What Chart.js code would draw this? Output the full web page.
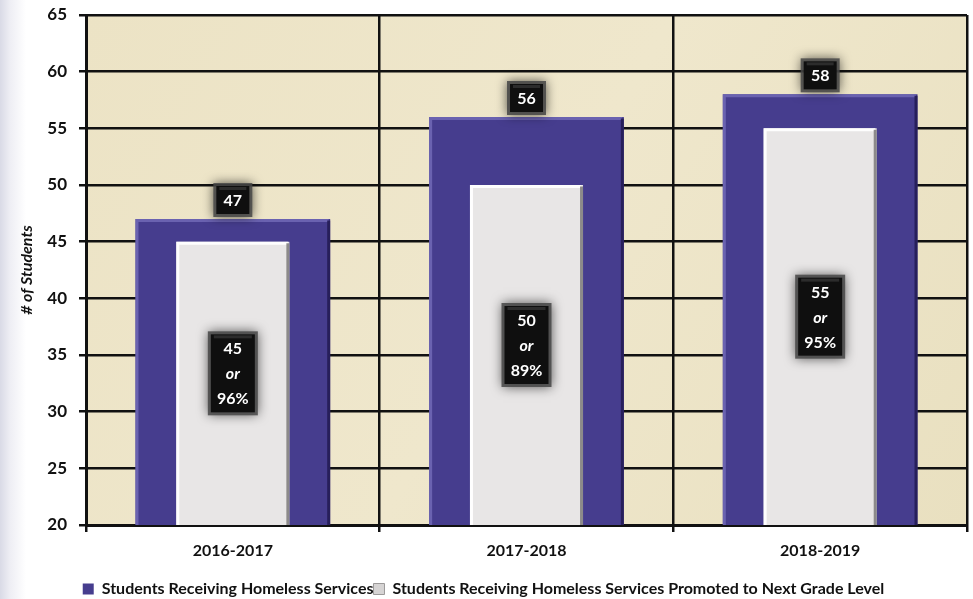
<!DOCTYPE html>
<html>
<head>
<meta charset="utf-8">
<script src="https://cdn.jsdelivr.net/npm/chart.js@4"></script>
<style>
  html, body { margin: 0; padding: 0; }
  body {
    width: 973px; height: 599px; overflow: hidden;
    background: linear-gradient(to right, #d9dae6 0px, #eeeef4 10px, #ffffff 26px);
  }
  #wrap { position: relative; width: 973px; height: 599px; }
</style>
</head>
<body>
<div id="wrap"><canvas id="myChart"></canvas></div>
<script>
const years = ['2016-2017', '2017-2018', '2018-2019'];
const served = [47, 56, 58];
const promoted = [45, 50, 55];
const promotedPct = ['96%', '89%', '95%'];

const FONT = 'Lato, "Open Sans", sans-serif';

// parchment fill behind the plot
const plotBackground = {
    id: 'plotBackground',
    beforeDraw(chart) {
        const { ctx, chartArea: a } = chart;
        ctx.save();
        const g = ctx.createLinearGradient(a.left, a.top, a.right, a.bottom);
        g.addColorStop(0, '#ece3c5');
        g.addColorStop(0.5, '#efe7cc');
        g.addColorStop(1, '#e9e0c0');
        ctx.fillStyle = g;
        ctx.fillRect(a.left, a.top, a.right - a.left, a.bottom - a.top);
        ctx.restore();
    }
};

// light/dark edges on each bar
const bevel = {
    id: 'bevel',
    afterDatasetsDraw(chart) {
        const ctx = chart.ctx;
        const bottom = chart.chartArea.bottom;
        const styles = [
            { light: 'rgba(110,102,180,0.9)', dark: 'rgba(35,28,85,0.9)' },
            { light: 'rgba(255,255,255,0.95)', dark: 'rgba(130,128,128,0.9)' }
        ];
        // purple first so the grey bars stay on top
        [0, 1].forEach(di => {
            const s = styles[di];
            chart.getDatasetMeta(di).data.forEach(bar => {
                const l = bar.x - bar.width / 2, r = bar.x + bar.width / 2;
                const t = bar.y, b = Math.min(bar.base, bottom);
                ctx.save();
                ctx.lineWidth = 3;
                ctx.strokeStyle = s.light;
                ctx.beginPath();
                ctx.moveTo(l + 1.5, b);
                ctx.lineTo(l + 1.5, t + 1.5);
                ctx.lineTo(r - 1.5, t + 1.5);
                ctx.stroke();
                ctx.strokeStyle = s.dark;
                ctx.beginPath();
                ctx.moveTo(r - 1.5, t + 1.5);
                ctx.lineTo(r - 1.5, b);
                ctx.stroke();
                ctx.restore();
            });
        });
    }
};

function labelBox(ctx, cx, cy, w, h, lines, italicIdx) {
    ctx.save();
    ctx.shadowColor = 'rgba(0,0,0,0.75)';
    ctx.shadowBlur = 11;
    ctx.fillStyle = 'rgba(70,70,70,0.85)';
    ctx.fillRect(cx - w / 2 - 3, cy - h / 2 - 3, w + 6, h + 6);
    ctx.shadowBlur = 0;
    ctx.fillStyle = '#0f0f0f';
    ctx.fillRect(cx - w / 2, cy - h / 2, w, h);
    ctx.fillStyle = 'rgba(255,255,255,0.12)';
    ctx.fillRect(cx - w / 2 + 3, cy - h / 2 + 1, w - 6, 3);
    ctx.fillStyle = '#ffffff';
    ctx.textAlign = 'center';
    ctx.textBaseline = 'middle';
    const step = 25;
    const y0 = cy - (lines.length - 1) * step / 2;
    lines.forEach((txt, i) => {
        ctx.font = (i === italicIdx ? 'italic ' : '') + 'bold 16px ' + FONT;
        ctx.fillText(txt, cx, y0 + i * step + 1);
    });
    ctx.restore();
}

// value boxes: total above purple bar, promoted count + share inside grey bar
const valueLabels = {
    id: 'valueLabels',
    afterDatasetsDraw(chart) {
        const ctx = chart.ctx;
        const bottom = chart.chartArea.bottom;
        const outer = chart.getDatasetMeta(0).data;
        const inner = chart.getDatasetMeta(1).data;
        outer.forEach((bar, i) => {
            labelBox(ctx, bar.x, bar.y - 19, 33, 28, [String(served[i])], -1);
        });
        inner.forEach((bar, i) => {
            labelBox(ctx, bar.x, (bar.y + bottom) / 2 - 10, 44, 78,
                [String(promoted[i]), 'or', promotedPct[i]], 1);
        });
    }
};

const data = {
    labels: years,
    datasets: [{
        label: 'Students Receiving Homeless Services',
        data: served,
        backgroundColor: '#463d8e',
        borderWidth: 0,
        grouped: false,
        categoryPercentage: 1,
        barPercentage: 0.663,
        order: 1
    }, {
        label: 'Students Receiving Homeless Services Promoted to Next Grade Level',
        data: promoted,
        backgroundColor: '#e8e6e6',
        borderWidth: 0,
        grouped: false,
        categoryPercentage: 1,
        barPercentage: 0.385,
        order: 0
    }]
};

const config = {
    type: 'bar',
    data: data,
    plugins: [plotBackground, bevel, valueLabels],
    options: {
        responsive: false,
        animation: false,
        layout: {
            padding: { left: 0, right: 6, top: 15, bottom: -8 }
        },
        plugins: {
            tooltip: { enabled: false },
            legend: {
                position: 'bottom',
                reverse: true,
                labels: {
                    color: '#111111',
                    font: { family: FONT, size: 16, weight: 'bold' },
                    boxWidth: 11,
                    boxHeight: 11,
                    padding: 0,
                    generateLabels(chart) {
                        const items = Chart.defaults.plugins.legend.labels.generateLabels(chart);
                        items.forEach(it => {
                            if (it.datasetIndex === 1) {
                                it.fillStyle = '#d6d4d4';
                                it.strokeStyle = '#9c9a9a';
                                it.lineWidth = 1;
                            }
                        });
                        return items;
                    }
                }
            }
        },
        scales: {
            x: {
                grid: {
                    color: '#111111',
                    lineWidth: 2.5,
                    tickLength: 7,
                    offset: true
                },
                border: { color: '#111111', width: 3 },
                ticks: {
                    color: '#111111',
                    font: { family: FONT, size: 16, weight: 'bold' },
                    padding: 9
                },
                afterFit(scale) {
                    scale.height = 56;
                    scale.paddingLeft = 0;
                    scale.paddingRight = 0;
                }
            },
            y: {
                min: 20,
                max: 65,
                ticks: {
                    stepSize: 5,
                    color: '#111111',
                    font: { family: FONT, size: 17, weight: 'bold' },
                    padding: 12
                },
                grid: {
                    color: '#111111',
                    lineWidth: 2.5,
                    tickLength: 7
                },
                border: { color: '#111111', width: 3 },
                title: {
                    display: true,
                    text: '# of Students',
                    color: '#111111',
                    font: { family: FONT, size: 16, weight: 'bold', style: 'italic' },
                    padding: { top: 17, bottom: 0 }
                },
                afterFit(scale) {
                    scale.width = 86;
                    scale.paddingTop = 0;
                    scale.paddingBottom = 0;
                }
            }
        }
    }
};

const canvas = document.getElementById('myChart');
canvas.width = 973;
canvas.height = 599;
var myChart = new Chart(canvas, config);
</script>
</body>
</html>
